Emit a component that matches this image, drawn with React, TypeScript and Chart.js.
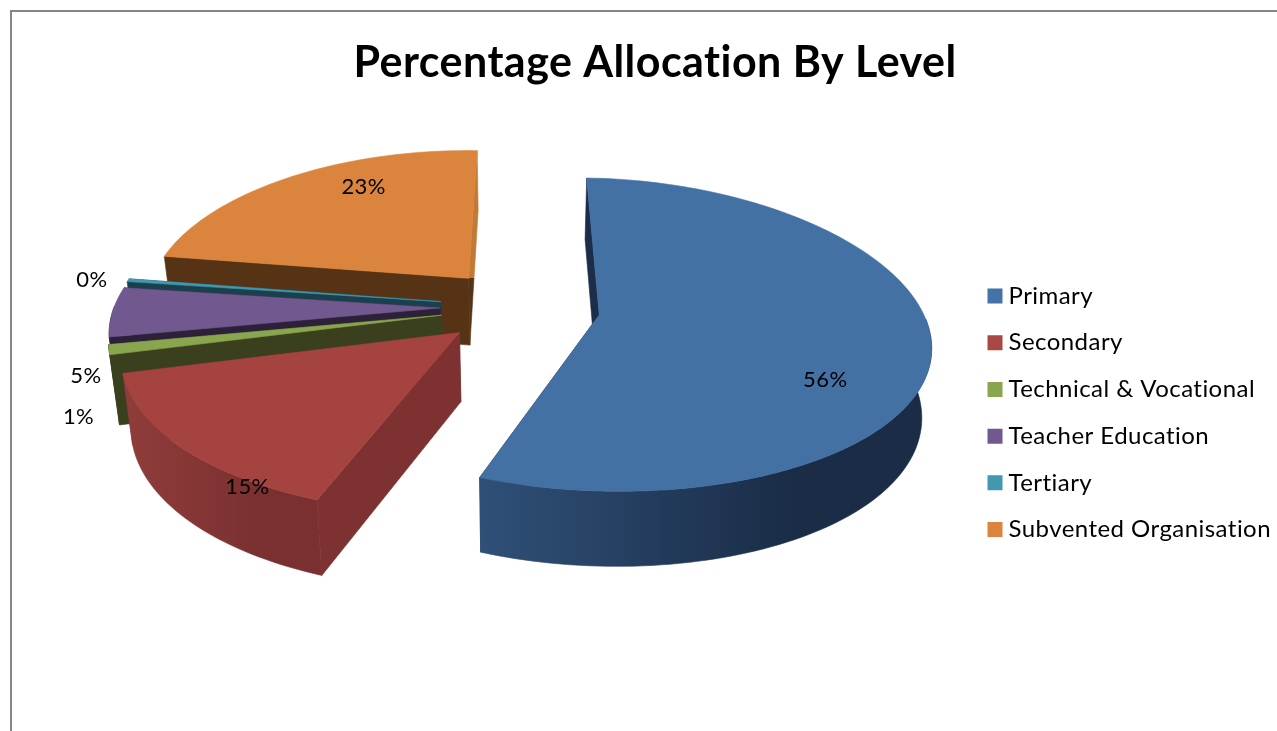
import React, { useEffect, useRef } from "react";
import { Chart, registerables } from "chart.js";

Chart.register(...registerables);

const categories = ["Primary", "Secondary", "Technical & Vocational", "Teacher Education", "Tertiary", "Subvented Organisation"];
const shares = [55.7, 15, 1, 5, 0.3, 23];

const topColors = ["#4471A4", "#A54341", "#89A54E", "#71588F", "#4198AF", "#DB843D"];
const legendColors = ["#4572A7", "#AA4643", "#89A54E", "#71588F", "#4198AF", "#DB843D"];
const cutColors = ["#1B2D48", "#7D3231", "#3A3F1E", "#2C2138", "#1A3F4D", "#573316"];
const endCutUpper = ["#1B2D48", "#7D3231", "#3A3F1E", "#2C2138", "#1A3F4D", "#C07A35"];
const wallLeft = ["#2F5078", "#8F3D3B", "#3A3F1E", "#2C2138", "#1A3F4D", "#573316"];
const wallRight = ["#1A2C46", "#7A3030", "#3A3F1E", "#2C2138", "#1A3F4D", "#573316"];
const explode = [80, 80, 80, 80, 80, 80];
const paintOrder = [5, 4, 3, 2, 1, 0];
const labelNudge = [[226, 65], [-212, 154], [-105, -91], [-349, -22], [-354, 68], [-363, 102]];
const labelSlice = [0, 1, 5, 4, 3, 2];

const RADIUS = 324;
const TILT = 0.478;
const BULGE = 0.128;
const PERSPECTIVE = 0.16;
const SHEAR = 0.012;
const DEPTH = 68;
const DEPTH_GROW = 0.1;
const FLOOR_SHRINK = 0.976;
const CENTER_X = 520;
const CENTER_Y = 307;
const TRACKING = "0.45px";

const project = (u: number, v: number, z: number, R: number) => {
  const t = v / R;
  const s = (1 + PERSPECTIVE * t) * (z ? FLOOR_SHRINK : 1);
  return [
    CENTER_X + u * s,
    CENTER_Y + u * SHEAR + v * TILT * (1 + BULGE * t) + z * DEPTH * (1 + DEPTH_GROW * t),
  ];
};

const pie3d = {
  id: "pie3d",
  beforeLayout(chart: any) {
    chart.ctx.letterSpacing = TRACKING;
  },
  beforeDraw(chart: any) {
    const { ctx, width, height } = chart;
    ctx.letterSpacing = TRACKING;
    ctx.save();
    ctx.fillStyle = "#868686";
    ctx.fillRect(10, 10, width, 2);
    ctx.fillRect(10, 10, 2, height);
    ctx.restore();
  },
  beforeDatasetDraw(chart: any) {
    const { ctx } = chart;
    const arcs = chart.getDatasetMeta(0).data;
    const apexes: number[][] = [];
    const poly = (pts: number[][], fill: any) => {
      ctx.beginPath();
      pts.forEach((p, i) => (i ? ctx.lineTo(p[0], p[1]) : ctx.moveTo(p[0], p[1])));
      ctx.closePath();
      ctx.fillStyle = fill;
      ctx.strokeStyle = fill;
      ctx.lineWidth = 0.6;
      ctx.fill();
      ctx.stroke();
    };
    paintOrder.forEach((i) => {
      const arc = arcs[i];
      const R = arc.outerRadius;
      const mid = (arc.startAngle + arc.endAngle) / 2;
      const off = arc.options.offset;
      const u0 = Math.cos(mid) * off;
      const v0 = Math.sin(mid) * off;
      const steps = Math.max(4, Math.ceil((arc.endAngle - arc.startAngle) * 40));
      const rim: number[][] = [];
      const frontRim: number[][] = [];
      for (let k = 0; k <= steps; k++) {
        const a = arc.startAngle + ((arc.endAngle - arc.startAngle) * k) / steps;
        const p = [u0 + Math.cos(a) * R, v0 + Math.sin(a) * R];
        rim.push(p);
        if (Math.sin(a) >= 0) frontRim.push(p);
      }
      const top = rim.map((p) => project(p[0], p[1], 0, R));
      const bottom = rim.map((p) => project(p[0], p[1], 1, R));
      const apexTop = project(u0, v0, 0, R);
      const apexBottom = project(u0, v0, 1, R);
      apexes[i] = apexTop;
      poly([apexTop, top[0], bottom[0], apexBottom], cutColors[i]);
      const y0 = Math.min(top[steps][1], apexTop[1]);
      const y1 = Math.max(bottom[steps][1], apexBottom[1]);
      const split = Math.min(1, Math.max(0, (apexTop[1] - y0) / (y1 - y0)));
      const endGrad = ctx.createLinearGradient(0, y0, 0, y1);
      endGrad.addColorStop(0, endCutUpper[i]);
      endGrad.addColorStop(split, endCutUpper[i]);
      endGrad.addColorStop(split, cutColors[i]);
      endGrad.addColorStop(1, cutColors[i]);
      poly([apexTop, top[steps], bottom[steps], apexBottom], endGrad);
      if (frontRim.length > 1) {
        const xs = top.map((p) => p[0]);
        const minX = Math.min(...xs);
        const maxX = Math.max(...xs);
        const grad = ctx.createLinearGradient(minX, 0, maxX, 0);
        grad.addColorStop(0, wallLeft[i]);
        grad.addColorStop(0.7, wallRight[i]);
        grad.addColorStop(1, wallRight[i]);
        const wallTop = frontRim.map((p) => project(p[0], p[1], 0, R));
        const wallBottom = frontRim.map((p) => project(p[0], p[1], 1, R));
        poly([...wallTop, ...wallBottom.reverse()], grad);
      }
      poly([apexTop, ...top], topColors[i]);
    });
    ctx.save();
    ctx.font = "22px Lato";
    ctx.fillStyle = "#000";
    ctx.textAlign = "center";
    ctx.textBaseline = "middle";
    labelSlice.forEach((s, n) => {
      const [dx, dy] = labelNudge[n];
      ctx.fillText(Math.round(shares[s]) + "%", apexes[s][0] + dx, apexes[s][1] + dy);
    });
    ctx.restore();
    return false;
  },
};

export default function App() {
  const ref = useRef<HTMLCanvasElement>(null);
  useEffect(() => {
    const chart = new Chart(ref.current!, {
      type: "pie",
      data: {
        labels: categories,
        datasets: [{
          data: shares,
          backgroundColor: legendColors,
          borderWidth: 0,
          offset: explode,
          radius: RADIUS,
        } as any],
      },
      options: {
        animation: false,
        responsive: false,
        layout: { padding: { left: 29, right: 0, top: 0, bottom: 14 } },
        plugins: {
          tooltip: { enabled: false },
          title: {
            display: true,
            text: "Percentage Allocation By Level",
            color: "#000",
            font: { family: "Lato", size: 43, weight: "bold" },
            padding: { top: 37, bottom: 20 },
          },
          legend: {
            position: "right",
            fullSize: false,
            labels: {
              usePointStyle: true,
              pointStyle: "rect",
              boxWidth: 3,
              boxHeight: 15,
              padding: 22.7,
              color: "#000",
              font: { family: "Lato", size: 24 },
            },
          },
        },
      },
      plugins: [pie3d],
    } as any);
    return () => chart.destroy();
  }, []);
  return (
    <div style={{ position: "fixed", left: 0, top: 0, width: 1277, height: 731, overflow: "hidden", background: "#fff" }}>
      <canvas ref={ref} width={1281} height={731} style={{ display: "block" }} />
    </div>
  );
}
